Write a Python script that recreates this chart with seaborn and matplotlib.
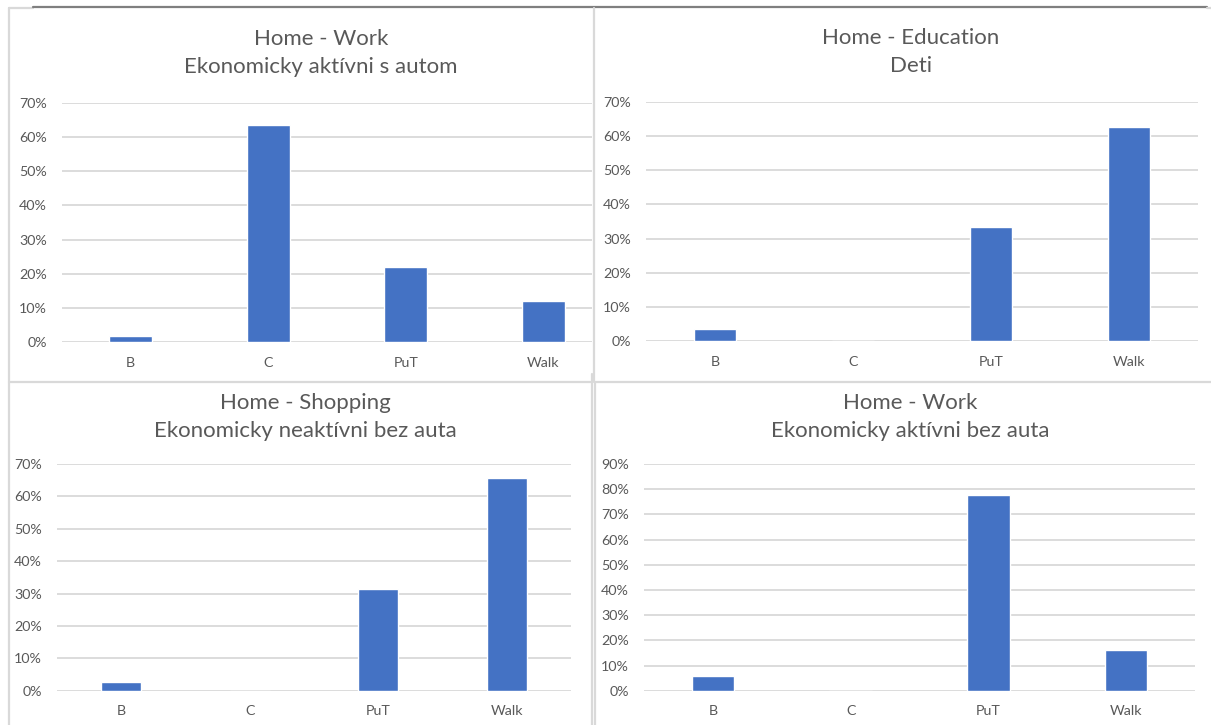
import matplotlib
matplotlib.use("Agg")
import matplotlib.pyplot as plt
import seaborn as sns
from matplotlib.ticker import PercentFormatter, MultipleLocator
from matplotlib.lines import Line2D

# --- Data (shares of trips by mode) ---
MODES = ["B", "C", "PuT", "Walk"]
work_with_car = [0.019, 0.635, 0.220, 0.121]
education_kids = [0.035, 0.0, 0.334, 0.627]
shopping_inactive_no_car = [0.027, 0.0, 0.315, 0.658]
work_no_car = [0.057, 0.0, 0.775, 0.163]

TITLES = [
    "Home - Work\nEkonomicky aktívni s autom",
    "Home - Education\nDeti",
    "Home - Shopping\nEkonomicky neaktívni bez auta",
    "Home - Work\nEkonomicky aktívni bez auta",
]
Y_MAX = [0.70, 0.70, 0.70, 0.90]

# --- Style ---
W, H = 1211, 725
BAR_COLOR = "#4472C4"
TEXT_COLOR = "#595959"
GRID_COLOR = "#D9D9D9"
BORDER_COLOR = "#D9D9D9"

sns.set_style("white")
plt.rcParams["font.family"] = ["Lato", "DejaVu Sans"]

fig = plt.figure(figsize=(W / 100, H / 100), dpi=100)


def px_rect(left, top, right, bottom):
    return [left / W, 1 - bottom / H, (right - left) / W, (bottom - top) / H]


# axes boxes in pixels: left, top, right, bottom ; x range of categories
panels = [
    (work_with_car, px_rect(62, 102.7, 592, 342.3), 3.354, (321, 53)),
    (education_kids, px_rect(646, 101.7, 1198, 341.3), 3.5, (911, 52)),
    (shopping_inactive_no_car, px_rect(57, 464, 571, 690.7), 3.5, (305, 417)),
    (work_no_car, px_rect(644, 464, 1195, 690.7), 3.5, (910, 417)),
]

for (vals, rect, xmax, (tx, ty)), title, ymax in zip(panels, TITLES, Y_MAX):
    ax = fig.add_axes(rect)
    sns.barplot(x=MODES, y=vals, ax=ax, color=BAR_COLOR, saturation=1,
                width=0.31, errorbar=None)
    ax.set_xlim(-0.5, xmax)
    ax.set_ylim(0, ymax)
    ax.yaxis.set_major_locator(MultipleLocator(0.1))
    ax.yaxis.set_major_formatter(PercentFormatter(1, decimals=0))
    ax.yaxis.grid(True, color=GRID_COLOR, lw=1.3)
    ax.set_axisbelow(True)
    for s in ax.spines.values():
        s.set_visible(False)
    ax.set_xlabel("")
    ax.set_ylabel("")
    ax.tick_params(axis="both", length=0, colors=TEXT_COLOR, labelsize=10.3)
    ax.tick_params(axis="y", pad=11)
    ax.tick_params(axis="x", pad=10.5)
    fig.text(tx / W, 1 - ty / H, title, ha="center", va="center",
             fontsize=16, color=TEXT_COLOR, linespacing=1.52)


def line(x0, y0, x1, y1, color=BORDER_COLOR, lw=1.6):
    fig.add_artist(Line2D([x0 / W, x1 / W], [1 - y0 / H, 1 - y1 / H],
                          transform=fig.transFigure, color=color, lw=lw))


# chart frame borders (pasted Excel chart boxes)
line(8.5, 7.5, 8.5, 725)
line(8.5, 7.5, 33, 7.5)
line(33, 6.5, 1207, 6.5, color="#7F7F7F", lw=1.6)
line(1207, 7.5, 1211, 7.5)
line(594, 7.5, 594, 381)
line(8.5, 382, 592, 382)
line(594, 381.5, 1211, 381.5)
line(592.3, 374, 592.3, 725)
line(594.5, 383, 594.5, 725)

fig.savefig("out.png", dpi=100)
